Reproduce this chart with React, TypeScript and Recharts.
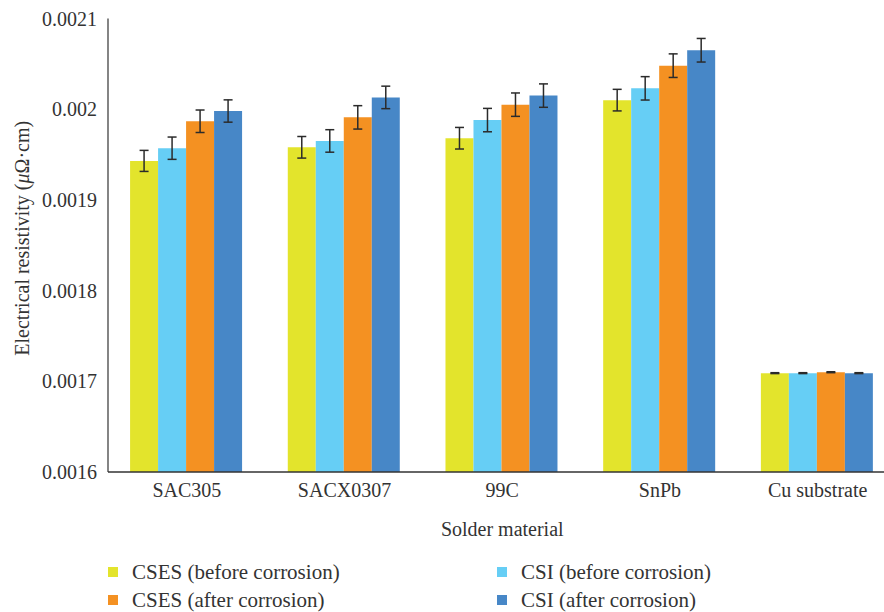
import { BarChart, Bar, XAxis, YAxis, ErrorBar, Label } from 'recharts';

const materials = ['SAC305', 'SACX0307', '99C', 'SnPb', 'Cu substrate'];

// resistivity means (µΩ·cm)
const csesBefore = [0.001943, 0.001958, 0.001968, 0.00201, 0.001709];
const csiBefore = [0.001957, 0.001965, 0.001988, 0.002023, 0.001709];
const csesAfter = [0.0019867, 0.001991, 0.002005, 0.002048, 0.00171];
const csiAfter = [0.001998, 0.002013, 0.002015, 0.002065, 0.001709];

// standard deviations
const csesBeforeErr = [0.0000116, 0.0000119, 0.0000119, 0.0000119, 0.0000005];
const csiBeforeErr = [0.0000123, 0.0000124, 0.0000129, 0.0000129, 0.0000005];
const csesAfterErr = [0.0000124, 0.0000129, 0.0000129, 0.000013, 0.0000005];
const csiAfterErr = [0.0000123, 0.0000124, 0.0000129, 0.000013, 0.0000005];

const yTicks = [0.0016, 0.0017, 0.0018, 0.0019, 0.002, 0.0021];

const series = [
  { key: 'csesBefore', name: 'CSES (before corrosion)', color: '#E3E42C' },
  { key: 'csiBefore', name: 'CSI (before corrosion)', color: '#66CEF5' },
  { key: 'csesAfter', name: 'CSES (after corrosion)', color: '#F49122' },
  { key: 'csiAfter', name: 'CSI (after corrosion)', color: '#4787C7' },
];

const data = materials.map((name, i) => ({
  name,
  csesBefore: csesBefore[i],
  csiBefore: csiBefore[i],
  csesAfter: csesAfter[i],
  csiAfter: csiAfter[i],
  csesBeforeErr: csesBeforeErr[i],
  csiBeforeErr: csiBeforeErr[i],
  csesAfterErr: csesAfterErr[i],
  csiAfterErr: csiAfterErr[i],
}));

const FONT = 'Liberation Serif, DejaVu Serif, serif';
const INK = '#333333';

function YAxisTitle({ viewBox }: any) {
  const cx = viewBox.x + 14;
  const cy = viewBox.y + viewBox.height / 2 - 7;
  return (
    <text
      x={cx}
      y={cy}
      transform={`rotate(-90 ${cx} ${cy})`}
      textAnchor="middle"
      dominantBaseline="central"
      style={{ fontFamily: FONT, fontSize: 20 }}
      fill={INK}
    >
      Electrical resistivity (<tspan fontStyle="italic">μ</tspan>Ω·cm)
    </text>
  );
}

function LegendGrid() {
  return (
    <div
      style={{
        position: 'absolute',
        left: 108,
        top: 558,
        display: 'grid',
        gridTemplateColumns: '389px 300px',
        gridAutoRows: '28px',
        fontFamily: FONT,
        fontSize: 21,
        lineHeight: '24px',
        color: INK,
      }}
    >
      {series.map((s) => (
        <div key={s.key} style={{ display: 'flex', alignItems: 'center', whiteSpace: 'nowrap' }}>
          <span
            style={{ width: 10, height: 10, background: s.color, marginRight: 14, flexShrink: 0 }}
          />
          <span>{s.name}</span>
        </div>
      ))}
    </div>
  );
}

export default function App() {
  return (
    <div
      style={{
        position: 'fixed',
        left: 0,
        top: 0,
        width: 884,
        height: 612,
        overflow: 'hidden',
        background: '#fff',
        fontFamily: FONT,
      }}
    >
      <BarChart
        width={900}
        height={612}
        data={data}
        margin={{ top: 18.5, right: 3.5, left: 8, bottom: 76 }}
        barCategoryGap="14%"
        barGap={0}
        style={{ fontFamily: FONT }}
      >
        <XAxis
          dataKey="name"
          height={64}
          tickLine={false}
          tickSize={0}
          tickMargin={11}
          axisLine={{ stroke: INK, strokeWidth: 1.5 }}
          tick={{ style: { fontFamily: FONT }, fontSize: 20, fill: INK }}
        >
          <Label
            value="Solder material"
            position="insideBottom"
            offset={0}
            style={{ fontFamily: FONT, fontSize: 20, fill: INK }}
          />
        </XAxis>
        <YAxis
          width={100}
          domain={[0.0016, 0.0021]}
          ticks={yTicks}
          allowDataOverflow
          tickLine={false}
          tickSize={0}
          tickMargin={11}
          tickFormatter={(v: number) => String(v)}
          axisLine={{ stroke: INK, strokeWidth: 1.2 }}
          tick={{ style: { fontFamily: FONT }, fontSize: 20, fill: INK }}
        >
          <Label content={<YAxisTitle />} />
        </YAxis>
        {series.map((s) => (
          <Bar key={s.key} dataKey={s.key} name={s.name} fill={s.color} isAnimationActive={false}>
            <ErrorBar
              dataKey={`${s.key}Err`}
              width={4.5}
              stroke="#2b2b2b"
              strokeWidth={1.5}
              isAnimationActive={false}
            />
          </Bar>
        ))}
      </BarChart>
      <LegendGrid />
    </div>
  );
}
